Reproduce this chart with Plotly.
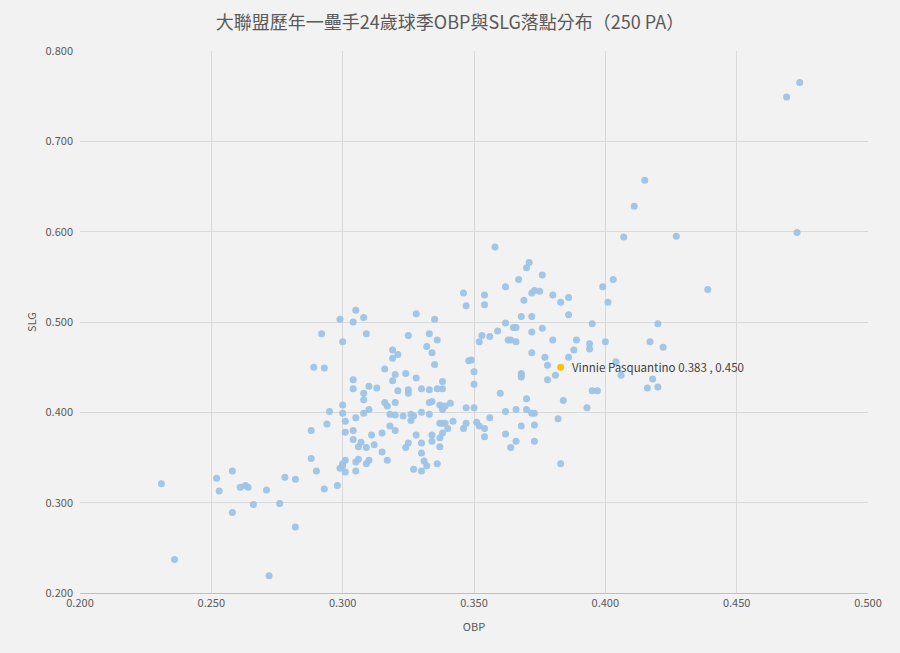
import plotly.graph_objects as go

# ==========================================
# DATA: first basemen, age-24 seasons (250+ PA)
# ==========================================
obp = [
    0.231, 0.236, 0.252, 0.253, 0.258, 0.258, 0.261, 0.263, 0.264, 0.266,
    0.271, 0.272, 0.276, 0.278, 0.282, 0.282, 0.288, 0.294, 0.288, 0.290,
    0.293, 0.298, 0.299,
    0.301, 0.301, 0.304, 0.304, 0.307, 0.306, 0.309, 0.311, 0.312, 0.315,
    0.318, 0.320, 0.326, 0.328, 0.330, 0.325, 0.324, 0.315, 0.317, 0.310,
    0.309, 0.306, 0.305, 0.305, 0.301, 0.300, 0.300, 0.301, 0.330, 0.331,
    0.332, 0.327, 0.330,
    0.305, 0.299, 0.304, 0.308, 0.328, 0.292, 0.300, 0.309, 0.325, 0.333,
    0.332, 0.319, 0.321, 0.319, 0.289, 0.293, 0.316, 0.320, 0.324, 0.328,
    0.319, 0.304, 0.304, 0.310, 0.313, 0.308, 0.321, 0.325, 0.325, 0.330,
    0.333, 0.308, 0.316, 0.317, 0.320, 0.333, 0.295, 0.300, 0.300, 0.310,
    0.308, 0.305, 0.318, 0.320, 0.323, 0.326, 0.327, 0.330, 0.333,
    0.358, 0.371, 0.370, 0.376, 0.367, 0.362, 0.346, 0.354, 0.347, 0.354,
    0.373, 0.372, 0.375, 0.380, 0.383, 0.386, 0.369, 0.368, 0.372, 0.386,
    0.335, 0.362, 0.365, 0.366, 0.359, 0.353, 0.356, 0.352, 0.363, 0.364,
    0.366, 0.372, 0.376, 0.380, 0.336, 0.334, 0.335, 0.348, 0.349, 0.372,
    0.377, 0.378, 0.386,
    0.350, 0.350, 0.336, 0.338, 0.338, 0.334, 0.337, 0.338, 0.339, 0.341,
    0.338, 0.347, 0.350, 0.337, 0.338, 0.339, 0.342, 0.340, 0.338, 0.337,
    0.334, 0.334, 0.337, 0.336, 0.347, 0.346, 0.351, 0.352, 0.354, 0.354,
    0.356, 0.360, 0.362, 0.366, 0.362, 0.366, 0.364, 0.368, 0.370, 0.370,
    0.372, 0.373, 0.373, 0.373, 0.382, 0.384, 0.383, 0.368, 0.368, 0.368,
    0.378, 0.381,
    0.415, 0.411, 0.407, 0.427, 0.403, 0.399, 0.439, 0.401,
    0.395, 0.420, 0.389, 0.394, 0.394, 0.400, 0.417, 0.422, 0.388, 0.404,
    0.406, 0.418, 0.416, 0.420, 0.395, 0.397, 0.393,
    0.474, 0.469, 0.473,
]
slg = [
    0.321, 0.237, 0.327, 0.313, 0.335, 0.289, 0.317, 0.319, 0.317, 0.298,
    0.314, 0.219, 0.299, 0.328, 0.326, 0.273, 0.380, 0.387, 0.349, 0.335,
    0.315, 0.319, 0.338,
    0.390, 0.378, 0.380, 0.370, 0.367, 0.362, 0.361, 0.375, 0.364, 0.377,
    0.385, 0.380, 0.391, 0.375, 0.366, 0.366, 0.361, 0.356, 0.347, 0.347,
    0.343, 0.348, 0.345, 0.335, 0.347, 0.343, 0.341, 0.334, 0.355, 0.346,
    0.341, 0.337, 0.335,
    0.513, 0.503, 0.500, 0.505, 0.509, 0.487, 0.478, 0.487, 0.485, 0.487,
    0.473, 0.469, 0.464, 0.460, 0.450, 0.449, 0.448, 0.442, 0.443, 0.438,
    0.435, 0.436, 0.426, 0.429, 0.427, 0.421, 0.424, 0.425, 0.421, 0.426,
    0.425, 0.414, 0.411, 0.407, 0.411, 0.411, 0.401, 0.408, 0.399, 0.403,
    0.399, 0.394, 0.398, 0.397, 0.396, 0.398, 0.396, 0.400, 0.398,
    0.583, 0.566, 0.560, 0.552, 0.547, 0.539, 0.532, 0.530, 0.518, 0.519,
    0.535, 0.532, 0.534, 0.530, 0.522, 0.527, 0.524, 0.506, 0.506, 0.508,
    0.503, 0.499, 0.494, 0.494, 0.490, 0.485, 0.484, 0.478, 0.480, 0.480,
    0.478, 0.489, 0.493, 0.480, 0.480, 0.466, 0.453, 0.457, 0.458, 0.466,
    0.461, 0.452, 0.461,
    0.445, 0.431, 0.426, 0.434, 0.426, 0.412, 0.408, 0.405, 0.407, 0.410,
    0.403, 0.405, 0.405, 0.388, 0.388, 0.388, 0.390, 0.382, 0.377, 0.372,
    0.375, 0.368, 0.362, 0.343, 0.388, 0.382, 0.389, 0.385, 0.382, 0.373,
    0.394, 0.421, 0.401, 0.403, 0.376, 0.368, 0.361, 0.385, 0.415, 0.403,
    0.399, 0.399, 0.386, 0.368, 0.393, 0.413, 0.343, 0.441, 0.443, 0.439,
    0.436, 0.441,
    0.657, 0.628, 0.594, 0.595, 0.547, 0.539, 0.536, 0.522,
    0.498, 0.498, 0.480, 0.476, 0.470, 0.478, 0.478, 0.472, 0.469, 0.456,
    0.441, 0.437, 0.427, 0.428, 0.424, 0.424, 0.405,
    0.765, 0.749, 0.599,
]

highlight_name = "Vinnie Pasquantino"
highlight_obp = 0.383
highlight_slg = 0.450

x_ticks = [0.200, 0.250, 0.300, 0.350, 0.400, 0.450, 0.500]
y_ticks = [0.200, 0.300, 0.400, 0.500, 0.600, 0.700, 0.800]

# ==========================================
# THEME
# ==========================================
BG = "#f2f2f2"
GRID = "#d9d9d9"
TEXT = "#595959"
DOT = "rgba(157, 195, 230, 0.95)"
HIGHLIGHT = "#ffc000"
FONT = "Noto Sans CJK TC, Noto Sans, sans-serif"

fig = go.Figure()

fig.add_trace(go.Scatter(
    x=obp, y=slg, mode="markers",
    marker=dict(size=7, color=DOT, line=dict(width=0)),
    showlegend=False, hoverinfo="x+y"
))

fig.add_trace(go.Scatter(
    x=[highlight_obp], y=[highlight_slg], mode="markers",
    marker=dict(size=7, color=HIGHLIGHT, line=dict(width=0)),
    showlegend=False
))

fig.add_annotation(
    x=highlight_obp, y=highlight_slg,
    text=f"{highlight_name} {highlight_obp:.3f} , {highlight_slg:.3f}",
    showarrow=False, xanchor="left", xshift=9,
    font=dict(size=11.5, color="#404040", family=FONT)
)

fig.update_layout(
    width=900, height=653,
    paper_bgcolor=BG, plot_bgcolor=BG,
    font=dict(family=FONT, color=TEXT, size=11),
    margin=dict(l=80, r=32, t=51, b=60),
    title=dict(
        text="大聯盟歷年一壘手24歲球季OBP與SLG落點分布（250 PA）",
        x=0.5, xanchor="center", y=0.965, yanchor="middle",
        font=dict(size=18, color=TEXT, family=FONT)
    ),
    xaxis=dict(
        range=[0.2, 0.5], tickvals=x_ticks, tickformat=".3f",
        gridcolor=GRID, gridwidth=1, zeroline=False,
        showline=True, linecolor="#bfbfbf", mirror=False,
        tickfont=dict(size=11, color=TEXT),
        title=dict(text="OBP", font=dict(size=11, color=TEXT), standoff=14),
    ),
    yaxis=dict(
        range=[0.2, 0.8], tickvals=y_ticks, tickformat=".3f",
        gridcolor=GRID, gridwidth=1, zeroline=False,
        showline=False,
        tickfont=dict(size=11, color=TEXT), ticklabelstandoff=6,
        title=dict(text="SLG", font=dict(size=11, color=TEXT), standoff=6),
    ),
)

# drop the page's default body margin so the chart fills the window
fig.write_html(
    "out.html",
    config={"displayModeBar": False},
    post_script="document.body.style.margin='0';",
)
